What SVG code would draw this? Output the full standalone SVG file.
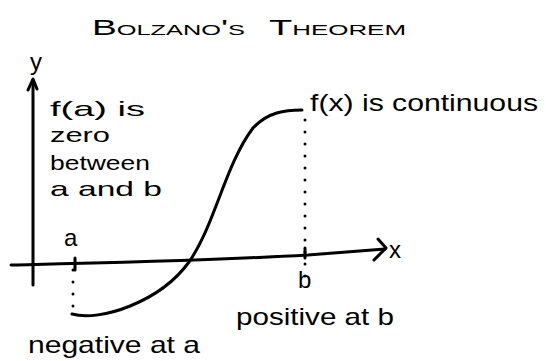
<svg xmlns="http://www.w3.org/2000/svg" width="546" height="361" viewBox="0 0 546 361">
<style>
text { font-family: "Liberation Sans", Arial, sans-serif; fill: #000; }
.t { font-size: 22px; font-variant: small-caps; }
.lbl { font-size: 24px; }
.sm { font-size: 21px; }
.ln { fill: none; stroke: #000; stroke-width: 3; stroke-linecap: round; stroke-linejoin: round; }
.dot { fill: none; stroke: #000; stroke-width: 3; stroke-linecap: round; stroke-dasharray: 0 12; }
</style>
<rect width="546" height="361" fill="#fff"/>
<g id="title">
<text class="t" x="92" y="35" textLength="153" lengthAdjust="spacingAndGlyphs">Bolzano's</text>
<text class="t" x="269" y="35" textLength="137" lengthAdjust="spacingAndGlyphs">Theorem</text>
</g>
<g id="axes">
<path class="ln" d="M33 80 L33 285"/>
<path class="ln" d="M28 90 L33 79 L37 89"/>
<path class="ln" d="M11 265 C100 263, 200 261, 308 255 L385 249"/>
<path class="ln" d="M378 239 L386 248 L374 260"/>
<text class="lbl" x="389" y="258">x</text>
<text class="lbl" x="30" y="70">y</text>
</g>
<g id="connectors">
<path class="ln" d="M72 314 C100 322, 160 302, 189 262 C215 225, 225 165, 253 128 C268 112, 285 110, 302 110"/>
<path class="dot" d="M305 120 L305 285"/>
<path class="dot" d="M73 270 L73 313"/>
<path class="ln" d="M75 258 L75 270"/>
<path class="ln" d="M305 248 L305 258"/>
</g>
<g id="label-fa">
<text class="sm" x="50" y="116" textLength="95" lengthAdjust="spacingAndGlyphs">f(a) is</text>
<text class="sm" x="50" y="142" textLength="60" lengthAdjust="spacingAndGlyphs">zero</text>
<text class="sm" x="50" y="170" textLength="100" lengthAdjust="spacingAndGlyphs">between</text>
<text class="sm" x="50" y="196" textLength="112" lengthAdjust="spacingAndGlyphs">a and b</text>
</g>
<g id="label-a"><text class="lbl" x="64" y="246">a</text></g>
<g id="label-b"><text class="lbl" x="298" y="288">b</text></g>
<g id="label-fx"><text class="lbl" x="310" y="111" textLength="228" lengthAdjust="spacingAndGlyphs">f(x) is continuous</text></g>
<g id="label-pos"><text class="lbl" x="236" y="325" textLength="158" lengthAdjust="spacingAndGlyphs">positive at b</text></g>
<g id="label-neg"><text class="lbl" x="28" y="353" textLength="172" lengthAdjust="spacingAndGlyphs">negative at a</text></g>
</svg>
